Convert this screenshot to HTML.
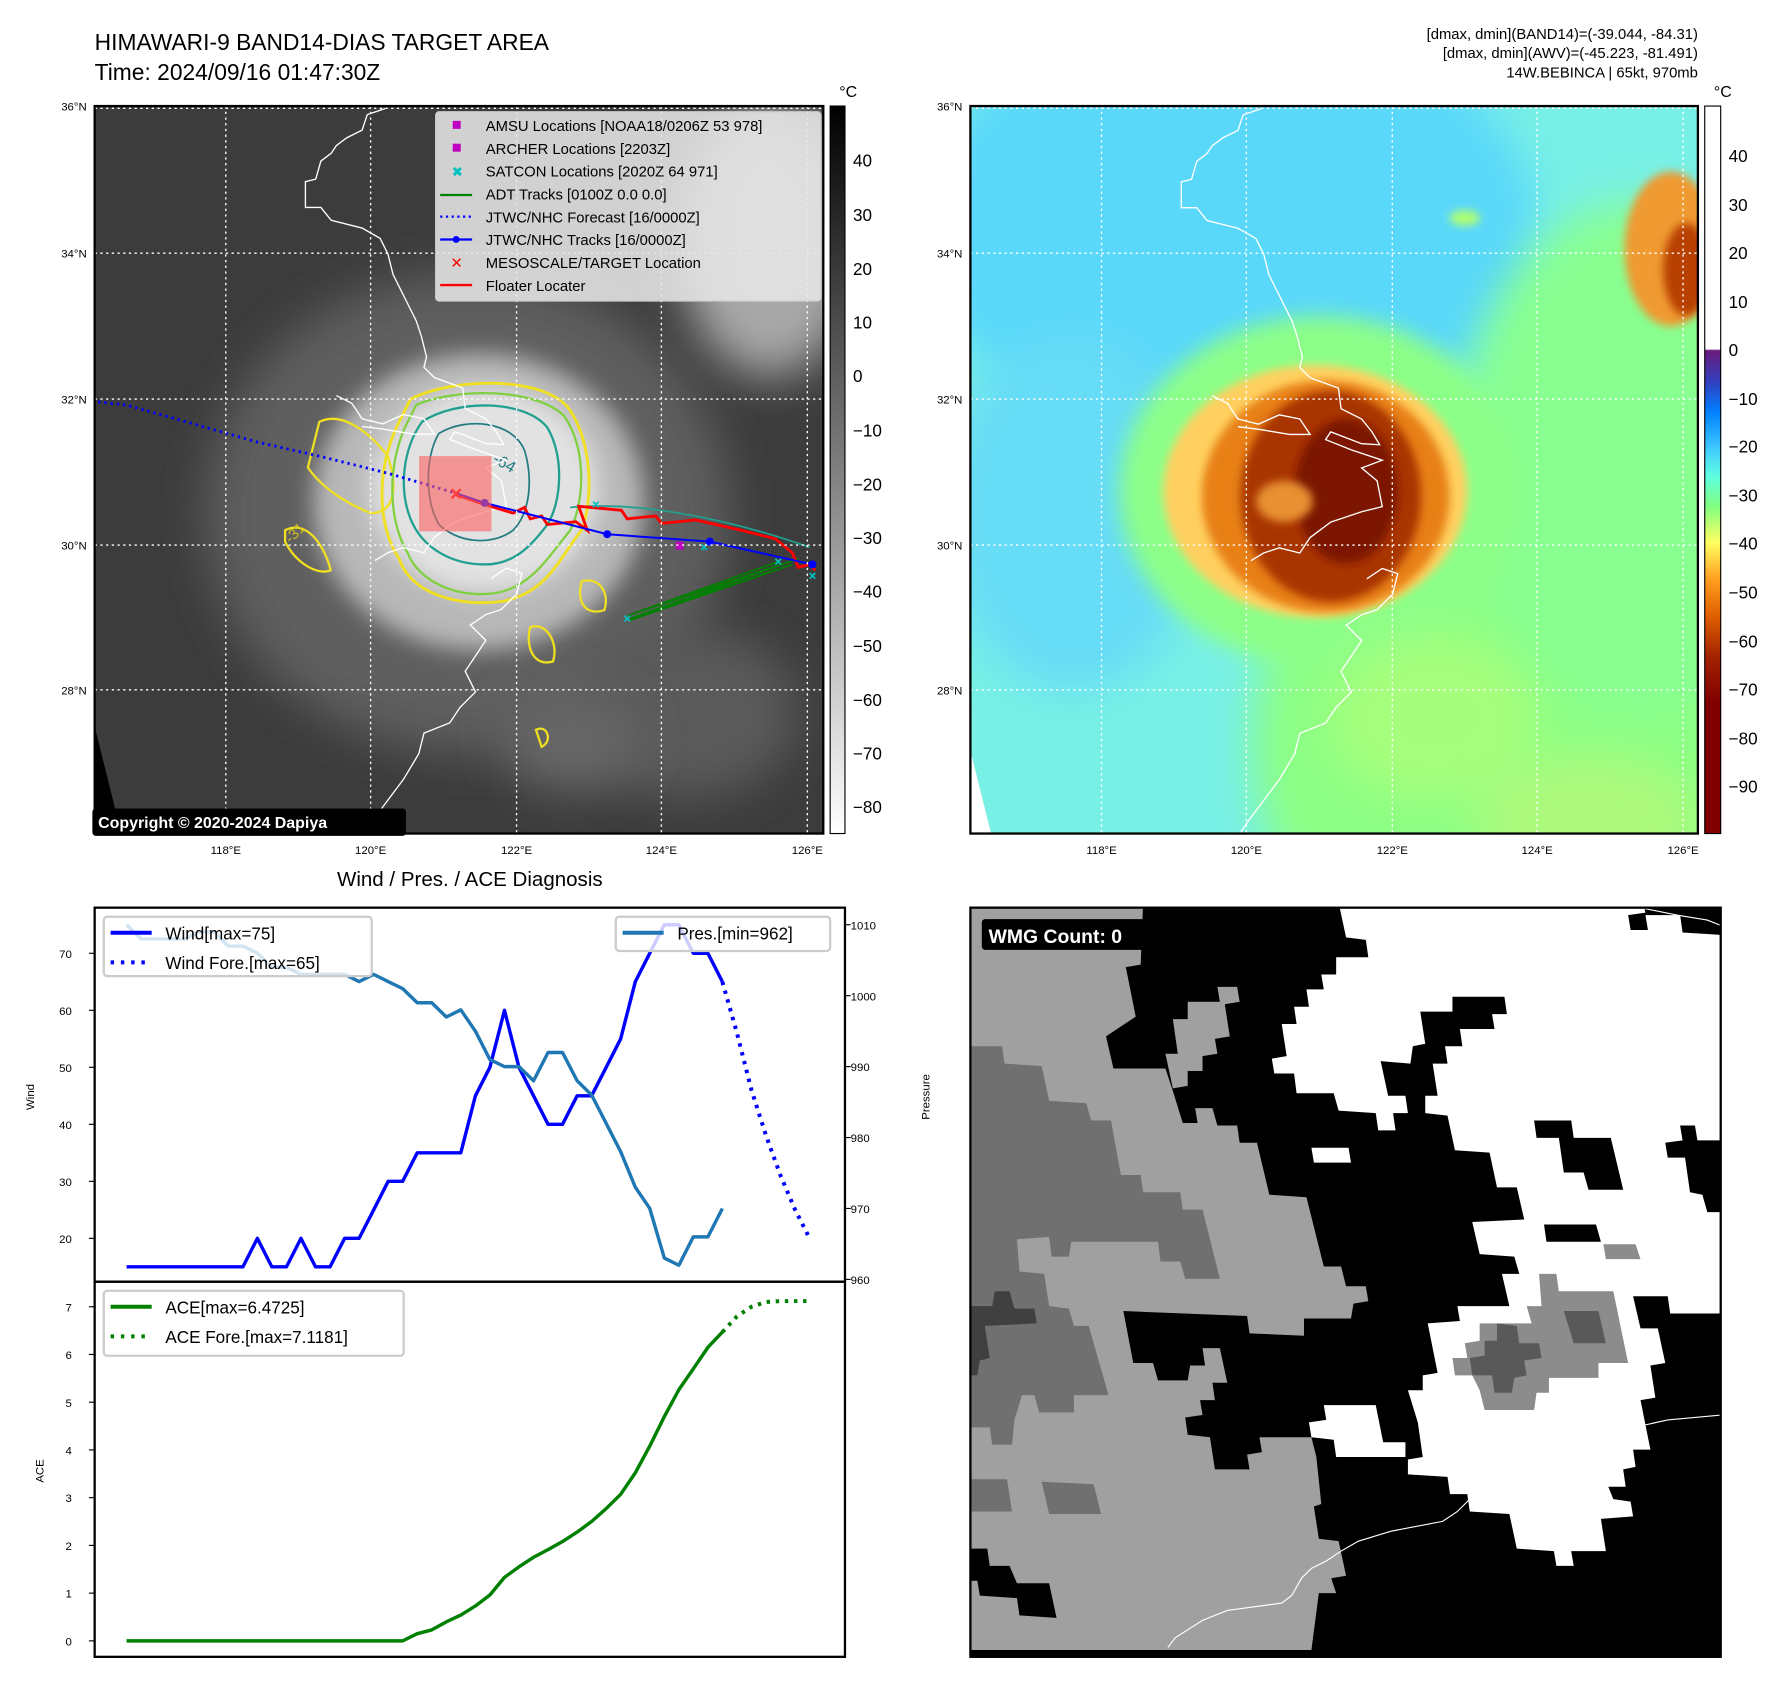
<!DOCTYPE html>
<html><head><meta charset="utf-8"><style>
html,body{margin:0;padding:0;background:#fff}
svg{display:block;font-family:"Liberation Sans","DejaVu Sans",sans-serif}
</style></head><body>
<svg id="root" width="1788" height="1694" viewBox="0 0 1568 1485.6" xmlns="http://www.w3.org/2000/svg">
<defs>
<filter id="b8" x="-50%" y="-50%" width="200%" height="200%"><feGaussianBlur stdDeviation="8"/></filter>
<filter id="b20" x="-50%" y="-50%" width="200%" height="200%"><feGaussianBlur stdDeviation="20"/></filter>
<filter id="b40" x="-50%" y="-50%" width="200%" height="200%"><feGaussianBlur stdDeviation="40"/></filter>
<clipPath id="clipL"><rect x="83" y="93" width="639" height="638"/></clipPath>
<clipPath id="clipR"><rect x="851" y="93" width="638" height="638"/></clipPath>
<clipPath id="clipB"><rect x="851" y="796" width="658" height="657"/></clipPath>
<linearGradient id="cbL" x1="0" y1="0" x2="0" y2="1"><stop offset="0" stop-color="#000"/><stop offset="1" stop-color="#fff"/></linearGradient>
<linearGradient id="cbR" x1="0" y1="0" x2="0" y2="1">
<stop offset="0" stop-color="#fff"/><stop offset="0.334" stop-color="#fff"/><stop offset="0.336" stop-color="#6a1b7a"/>
<stop offset="0.38" stop-color="#3040c0"/><stop offset="0.42" stop-color="#0080ff"/><stop offset="0.47" stop-color="#40c8ff"/>
<stop offset="0.51" stop-color="#60ffe0"/><stop offset="0.55" stop-color="#80ff80"/><stop offset="0.60" stop-color="#ffff60"/>
<stop offset="0.65" stop-color="#ffa020"/><stop offset="0.70" stop-color="#e06000"/><stop offset="0.76" stop-color="#a02000"/>
<stop offset="0.82" stop-color="#800000"/><stop offset="1" stop-color="#800000"/></linearGradient>
</defs>

<text x="83" y="44" font-size="20">HIMAWARI-9 BAND14-DIAS TARGET AREA</text>
<text x="83" y="70" font-size="20">Time: 2024/09/16 01:47:30Z</text>
<g font-size="13" text-anchor="end">
<text x="1489" y="34">[dmax, dmin](BAND14)=(-39.044, -84.31)</text>
<text x="1489" y="51">[dmax, dmin](AWV)=(-45.223, -81.491)</text>
<text x="1489" y="68">14W.BEBINCA | 65kt, 970mb</text>
</g>

<!-- LEFT MAP -->
<g clip-path="url(#clipL)">
<rect x="83" y="93" width="639" height="638" fill="#3c3c3c"/>
<g transform="scale(0.5)">
<ellipse cx="820" cy="900" rx="460" ry="420" fill="#5e5e5e" filter="url(#b40)"/>
<ellipse cx="1350" cy="420" rx="160" ry="240" fill="#a8a8a8" filter="url(#b40)"/>
<ellipse cx="1200" cy="1250" rx="200" ry="150" fill="#5a5a5a" filter="url(#b40)"/>
<ellipse cx="1000" cy="1300" rx="120" ry="90" fill="#666" filter="url(#b40)"/>
<ellipse cx="840" cy="880" rx="290" ry="260" fill="#b8b8b8" filter="url(#b20)"/>
<ellipse cx="850" cy="860" rx="200" ry="180" fill="#e2e2e2" filter="url(#b20)"/>
<polygon points="165,1270 165,1540 232,1540" fill="#000"/>
<path d="M720,700 C800,660 960,660 1000,720 C1040,780 1040,880 1020,930 C980,980 960,1040 880,1055 C800,1065 720,1040 700,980 C660,920 660,820 700,740 Z" fill="none" stroke="#f0e020" stroke-width="5"/>
<path d="M560,740 C600,720 650,760 680,800 C700,860 690,900 650,900 C600,880 560,850 540,820 Z M500,930 C540,910 570,960 580,1000 C560,1010 520,990 500,950 Z M1020,1020 C1050,1010 1070,1040 1060,1070 C1030,1080 1010,1060 1020,1020 Z M930,1100 C960,1090 980,1130 970,1160 C940,1170 920,1140 930,1100 Z M940,1280 C960,1270 970,1300 950,1310 Z" fill="none" stroke="#f0e020" stroke-width="4"/>
<path d="M730,710 C800,680 940,680 990,730 C1030,790 1025,880 1000,930 C960,980 930,1030 870,1040 C800,1050 735,1020 715,970 C680,910 680,820 710,750 Z" fill="none" stroke="#80d040" stroke-width="4"/>
<path d="M740,740 C800,700 920,700 960,750 C990,800 985,880 960,920 C930,960 900,990 850,990 C790,990 740,960 720,910 C700,860 705,790 740,740 Z" fill="none" stroke="#20a090" stroke-width="4"/>
<path d="M770,760 C820,730 900,740 920,790 C935,840 930,900 900,930 C860,960 800,950 770,920 C745,880 745,800 770,760 Z" fill="none" stroke="#207a80" stroke-width="3"/>
<path d="M1000,890 C1100,880 1250,900 1420,960" fill="none" stroke="#20a090" stroke-width="3"/>
<text x="860" y="820" font-size="28" fill="#207a80" transform="rotate(30 880 820)">-64</text>
<text x="500" y="950" font-size="26" fill="#d0c020" transform="rotate(-45 510 940)">-31</text>
<g transform="translate(165,174) scale(0.904)">
<polyline fill="none" stroke="#fff" stroke-width="2.6" points="565,18 530,30 520,60 490,75 470,90 460,105 440,120 430,155 410,160 410,210 440,210 460,235 520,250 555,270 570,300 580,340 595,370 610,400 625,430 635,460 645,500 640,520 660,540 715,560 720,600 760,620 780,645 795,670 760,668 700,645 690,660 740,680 800,700 760,715 790,740 800,790 760,800 700,820 660,850 640,880 600,870 570,880 545,895"/>
<polyline fill="none" stroke="#fff" stroke-width="2.6" points="470,575 500,590 520,620 560,630 600,612 640,620 660,650 620,650 560,640 520,635"/>
<polyline fill="none" stroke="#fff" stroke-width="2.6" points="770,930 800,910 830,920 820,960 790,990 760,1000 730,1020 760,1050 740,1080 720,1110 740,1150 710,1180 690,1210 640,1230 630,1270 600,1320 570,1360 540,1400 520,1430 480,1440 470,1500 450,1530"/>
</g>
<polyline fill="none" stroke="#0000ff" stroke-width="5" stroke-dasharray="4,7" points="172,705 220,710 320,738 450,775 560,800 680,830 800,865"/>
<polyline fill="none" stroke="#008000" stroke-width="3" points="1105,1088 1390,990 1105,1085 1400,980 1100,1080 1365,985"/>
<polyline fill="none" stroke="#ff0000" stroke-width="5" points="800,868 850,885 900,900 920,890 930,910 950,905 960,920 1010,915 1030,930 1015,888 1090,895 1100,910 1150,905 1160,918 1220,912 1300,930 1360,945 1390,970 1400,995 1420,990 1430,1000"/>
<polyline fill="none" stroke="#0000ff" stroke-width="3.5" points="800,865 850,882 1065,937 1245,950 1425,990"/>
<g fill="#0000ff"><circle cx="850" cy="882" r="7"/><circle cx="1065" cy="937" r="7"/><circle cx="1245" cy="950" r="7"/><circle cx="1425" cy="990" r="7"/></g>
<g stroke="#00c0c0" stroke-width="3"><path d="M1095,1080 l10,10 m0,-10 l-10,10 M1230,955 l10,10 m0,-10 l-10,10 M1360,980 l10,10 m0,-10 l-10,10 M1420,1005 l10,10 m0,-10 l-10,10 M1040,880 l10,10 m0,-10 l-10,10"/></g>
<rect x="1185" y="950" width="14" height="14" fill="#c000c0"/>
<path d="M792,858 l16,16 m0,-16 l-16,16" stroke="#ff0000" stroke-width="4"/>
<rect x="735" y="800" width="127" height="132" fill="#ff6060" fill-opacity="0.6"/>
</g>
<g stroke="#fff" stroke-width="1.2" stroke-dasharray="2,3">
<line x1="198" y1="93" x2="198" y2="731"/><line x1="325" y1="93" x2="325" y2="731"/><line x1="453" y1="93" x2="453" y2="731"/><line x1="580" y1="93" x2="580" y2="731"/><line x1="708" y1="93" x2="708" y2="731"/>
<line x1="83" y1="95" x2="722" y2="95"/><line x1="83" y1="222" x2="722" y2="222"/><line x1="83" y1="350" x2="722" y2="350"/><line x1="83" y1="478" x2="722" y2="478"/><line x1="83" y1="605" x2="722" y2="605"/>
</g>
</g>
<rect x="83" y="93" width="639" height="638" fill="none" stroke="#000" stroke-width="2"/>
<g font-size="13">
<rect x="382" y="98" width="338" height="166" rx="3" fill="#e6e6e6" fill-opacity="0.88" stroke="#ccc"/>
<rect x="397" y="106" width="7" height="7" fill="#c000c0"/><text x="426" y="115">AMSU Locations [NOAA18/0206Z 53 978]</text>
<rect x="397" y="126" width="7" height="7" fill="#c000c0"/><text x="426" y="135">ARCHER Locations [2203Z]</text>
<text x="396" y="155" fill="#00c0c0" font-size="12">✖</text><text x="426" y="155">SATCON Locations [2020Z 64 971]</text>
<line x1="386" y1="171" x2="414" y2="171" stroke="#008000" stroke-width="2"/><text x="426" y="175">ADT Tracks [0100Z 0.0 0.0]</text>
<line x1="386" y1="190" x2="414" y2="190" stroke="#0000ff" stroke-width="2" stroke-dasharray="2,3"/><text x="426" y="195">JTWC/NHC Forecast [16/0000Z]</text>
<line x1="386" y1="210" x2="414" y2="210" stroke="#0000ff" stroke-width="2"/><circle cx="400" cy="210" r="3" fill="#0000ff"/><text x="426" y="215">JTWC/NHC Tracks [16/0000Z]</text>
<text x="395" y="235" fill="#ff0000" font-size="13" font-weight="bold">✕</text><text x="426" y="235">MESOSCALE/TARGET Location</text>
<line x1="386" y1="250" x2="414" y2="250" stroke="#ff0000" stroke-width="2"/><text x="426" y="255">Floater Locater</text>
</g>
<g><rect x="81" y="709" width="275" height="24" rx="3" fill="#000"/><text x="86" y="726" fill="#fff" font-size="14" font-weight="bold">Copyright © 2020-2024 Dapiya</text></g>
<g font-size="10">
<g text-anchor="end"><text x="76" y="97">36°N</text><text x="76" y="226">34°N</text><text x="76" y="354">32°N</text><text x="76" y="482">30°N</text><text x="76" y="609">28°N</text></g>
<g text-anchor="middle"><text x="198" y="749">118°E</text><text x="325" y="749">120°E</text><text x="453" y="749">122°E</text><text x="580" y="749">124°E</text><text x="708" y="749">126°E</text></g>
<g text-anchor="end"><text x="844" y="97">36°N</text><text x="844" y="226">34°N</text><text x="844" y="354">32°N</text><text x="844" y="482">30°N</text><text x="844" y="609">28°N</text></g>
<g text-anchor="middle"><text x="966" y="749">118°E</text><text x="1093" y="749">120°E</text><text x="1221" y="749">122°E</text><text x="1348" y="749">124°E</text><text x="1476" y="749">126°E</text></g>
</g>
<g>
<rect x="728" y="93" width="13" height="638" fill="url(#cbL)" stroke="#000" stroke-width="1"/>
<text x="736" y="85" font-size="14">°C</text>
<g font-size="15"><text x="748" y="146">40</text><text x="748" y="194">30</text><text x="748" y="241">20</text><text x="748" y="288">10</text><text x="748" y="335">0</text><text x="748" y="383">−10</text><text x="748" y="430">−20</text><text x="748" y="477">−30</text><text x="748" y="524">−40</text><text x="748" y="572">−50</text><text x="748" y="619">−60</text><text x="748" y="666">−70</text><text x="748" y="713">−80</text></g>
</g>

<!-- RIGHT MAP -->
<g clip-path="url(#clipR)">
<rect x="851" y="93" width="638" height="638" fill="#78f0e6"/>
<g transform="translate(850.6,87.2) scale(0.452)">
<ellipse cx="500" cy="250" rx="600" ry="420" fill="#5ad8fa" filter="url(#b40)"/>
<ellipse cx="1250" cy="1250" rx="700" ry="600" fill="#8cff84" filter="url(#b40)"/>
<ellipse cx="1300" cy="700" rx="350" ry="500" fill="#88ff90" filter="url(#b40)"/>
<ellipse cx="200" cy="800" rx="250" ry="350" fill="#66dcf6" filter="url(#b40)"/>
<ellipse cx="680" cy="760" rx="390" ry="340" fill="#8cff88" filter="url(#b20)"/>
<ellipse cx="900" cy="1200" rx="200" ry="160" fill="#d8ff70" opacity="0.35" filter="url(#b40)"/>
<ellipse cx="1200" cy="1400" rx="220" ry="130" fill="#e8f070" opacity="0.35" filter="url(#b40)"/>
<ellipse cx="670" cy="760" rx="295" ry="245" fill="#ffd060" filter="url(#b8)"/>
<ellipse cx="690" cy="770" rx="240" ry="225" fill="#e88018" filter="url(#b8)"/>
<ellipse cx="700" cy="770" rx="175" ry="205" fill="#a83400" filter="url(#b8)"/>
<ellipse cx="730" cy="760" rx="100" ry="140" fill="#7c1200" filter="url(#b8)"/>
<ellipse cx="610" cy="780" rx="55" ry="40" fill="#e89030" filter="url(#b8)"/>
<ellipse cx="1360" cy="290" rx="90" ry="150" fill="#f09a30" filter="url(#b8)"/>
<ellipse cx="1390" cy="330" rx="45" ry="90" fill="#b84000" filter="url(#b8)"/>
<ellipse cx="960" cy="230" rx="30" ry="15" fill="#b0ff70" filter="url(#b8)"/>
<polygon points="0,1260 0,1540 70,1540" fill="#fff"/>
<polyline fill="none" stroke="#fff" stroke-width="2.6" points="565,18 530,30 520,60 490,75 470,90 460,105 440,120 430,155 410,160 410,210 440,210 460,235 520,250 555,270 570,300 580,340 595,370 610,400 625,430 635,460 645,500 640,520 660,540 715,560 720,600 760,620 780,645 795,670 760,668 700,645 690,660 740,680 800,700 760,715 790,740 800,790 760,800 700,820 660,850 640,880 600,870 570,880 545,895"/>
<polyline fill="none" stroke="#fff" stroke-width="2.6" points="470,575 500,590 520,620 560,630 600,612 640,620 660,650 620,650 560,640 520,635"/>
<polyline fill="none" stroke="#fff" stroke-width="2.6" points="770,930 800,910 830,920 820,960 790,990 760,1000 730,1020 760,1050 740,1080 720,1110 740,1150 710,1180 690,1210 640,1230 630,1270 600,1320 570,1360 540,1400 520,1430 480,1440 470,1500 450,1530"/>
</g>
<g stroke="#fff" stroke-width="1.2" stroke-dasharray="2,3">
<line x1="966" y1="93" x2="966" y2="731"/><line x1="1093" y1="93" x2="1093" y2="731"/><line x1="1221" y1="93" x2="1221" y2="731"/><line x1="1348" y1="93" x2="1348" y2="731"/><line x1="1476" y1="93" x2="1476" y2="731"/>
<line x1="851" y1="95" x2="1489" y2="95"/><line x1="851" y1="222" x2="1489" y2="222"/><line x1="851" y1="350" x2="1489" y2="350"/><line x1="851" y1="478" x2="1489" y2="478"/><line x1="851" y1="605" x2="1489" y2="605"/>
</g>
</g>
<rect x="851" y="93" width="638" height="638" fill="none" stroke="#000" stroke-width="2"/>
<g>
<rect x="1495" y="93" width="14" height="638" fill="url(#cbR)" stroke="#000" stroke-width="1"/>
<text x="1503" y="85" font-size="14">°C</text>
<g font-size="15"><text x="1516" y="142">40</text><text x="1516" y="185">30</text><text x="1516" y="227">20</text><text x="1516" y="270">10</text><text x="1516" y="312">0</text><text x="1516" y="355">−10</text><text x="1516" y="397">−20</text><text x="1516" y="440">−30</text><text x="1516" y="482">−40</text><text x="1516" y="525">−50</text><text x="1516" y="568">−60</text><text x="1516" y="610">−70</text><text x="1516" y="653">−80</text><text x="1516" y="695">−90</text></g>
</g>

<!-- BOTTOM RIGHT WMG -->
<g clip-path="url(#clipB)">
<rect x="851" y="796" width="658" height="657" fill="#000"/>
<g transform="translate(850.6,785.2) scale(0.434)">
<polygon fill="#a0a0a0" points="0,15 350,15 345,140 315,145 335,245 275,285 290,350 395,350 410,395 430,460 460,460 455,430 490,430 500,465 540,465 545,500 580,500 605,605 680,610 715,750 750,750 760,790 800,790 805,820 775,825 770,855 675,855 675,890 565,885 560,850 310,840 330,945 370,945 380,980 440,980 445,950 475,950 470,915 505,915 520,985 490,985 495,1020 465,1020 470,1050 435,1055 440,1090 485,1095 495,1160 565,1160 560,1130 590,1125 585,1095 690,1095 700,1135 710,1230 695,1235 705,1300 745,1305 760,1375 730,1380 740,1410 705,1410 690,1525 0,1525"/>
<polygon fill="#a0a0a0" points="410,250 440,250 440,215 505,215 500,185 540,185 545,215 515,220 525,285 495,290 500,320 470,325 470,355 440,355 440,385 410,390 395,320 420,320"/>
<polygon fill="#000" points="0,1320 35,1320 40,1355 80,1355 95,1390 160,1390 175,1460 100,1455 95,1420 20,1415 15,1385 0,1385"/>
<polygon fill="#707070" points="0,305 65,305 70,340 145,345 160,415 235,420 245,455 285,455 305,565 345,565 350,600 425,600 430,635 470,635 505,775 435,775 425,740 385,740 380,700 205,700 200,730 165,730 160,690 95,695 100,760 150,765 160,830 200,835 210,870 240,870 280,1010 210,1010 210,1045 140,1045 130,1010 105,1010 90,1060 85,1110 45,1110 40,1075 0,1075"/>
<polygon fill="#404040" points="0,830 45,830 50,800 80,800 90,835 130,835 135,865 30,870 40,935 20,940 15,970 0,970"/>
<polygon fill="#707070" points="0,1180 75,1180 85,1245 0,1245"/>
<polygon fill="#707070" points="145,1185 250,1190 265,1250 160,1250"/>
<polygon fill="#fff" points="745,15 1360,15 1365,35 1330,40 1335,70 1370,70 1365,40 1435,40 1440,75 1520,80 1520,495 1470,495 1465,465 1435,465 1440,495 1405,500 1410,530 1445,530 1455,600 1480,605 1490,640 1520,640 1520,845 1415,845 1410,810 1340,810 1355,875 1390,875 1405,945 1375,950 1385,1015 1355,1020 1375,1120 1340,1120 1345,1155 1320,1160 1325,1195 1290,1195 1300,1220 1335,1225 1340,1255 1275,1260 1285,1325 1215,1325 1220,1355 1185,1355 1180,1325 1105,1320 1090,1250 1010,1245 1005,1210 970,1210 965,1175 885,1170 885,1140 915,1135 905,1065 885,1000 915,1000 915,970 945,965 925,865 990,860 985,830 1090,830 1075,765 1110,765 1100,730 1030,725 1015,660 1120,655 1105,590 1065,590 1050,520 980,515 965,445 920,440 920,405 945,405 935,340 965,340 960,305 995,305 990,270 1060,270 1055,240 1085,240 1080,205 975,205 975,235 910,235 920,300 895,305 890,340 830,335 845,405 880,405 885,440 855,440 860,475 825,475 820,440 745,435 735,400 660,400 655,360 615,360 610,330 640,325 630,260 660,260 655,225 685,225 680,190 715,190 710,160 740,160 740,125 805,125 800,90 760,85"/>
<polygon fill="#000" points="1140,455 1215,455 1220,490 1295,490 1320,595 1250,595 1240,560 1200,560 1190,490 1145,490"/>
<polygon fill="#000" points="1160,665 1265,665 1275,700 1165,700"/>
<polygon fill="#8c8c8c" points="1280,705 1345,705 1355,735 1285,735"/>
<polygon fill="#fff" points="690,510 765,510 770,540 695,540"/>
<polygon fill="#fff" points="715,1030 820,1030 835,1105 880,1105 880,1135 740,1135 735,1100 690,1095 685,1065 720,1060"/>
<polygon fill="#8c8c8c" points="1150,765 1185,765 1190,800 1300,800 1330,945 1270,945 1270,975 1170,975 1170,1005 1145,1005 1140,1040 1040,1040 1030,1000 1015,970 980,970 975,935 1005,935 1000,905 1030,900 1030,865 1135,865 1125,830 1155,830"/>
<polygon fill="#595959" points="1200,840 1270,840 1285,905 1220,905"/>
<polygon fill="#595959" points="1065,865 1105,870 1110,905 1150,905 1155,935 1120,940 1125,970 1100,975 1095,1005 1060,1005 1055,970 1015,970 1010,935 1040,930 1040,900 1065,900"/>
<polyline fill="none" stroke="#fff" stroke-width="2.3" points="400,1520 415,1500 470,1465 520,1445 630,1430 650,1415 670,1380 690,1360 720,1345 750,1325 785,1305 850,1285 955,1265 985,1245 1010,1220"/>
<polyline fill="none" stroke="#fff" stroke-width="2.3" points="1365,1070 1410,1060 1520,1050"/>
<polyline fill="none" stroke="#fff" stroke-width="2.3" points="1355,25 1430,40 1490,50 1520,62"/>
</g>
</g>
<rect x="851" y="796" width="658" height="657" fill="none" stroke="#000" stroke-width="2"/>
<g><rect x="861" y="806" width="155" height="27" rx="3" fill="#000"/><text x="867" y="827" fill="#fff" font-size="17" font-weight="bold">WMG Count: 0</text></g>

<text x="412" y="777" font-size="18" text-anchor="middle">Wind / Pres. / ACE Diagnosis</text>
<g id="chart"></g>
</svg>
<script>
const obsIndex = [0,1,2,3,4,5,6,7,8,9,10,11,12,13,14,15,16,17,18,19,20,21,22,23,24,25,26,27,28,29,30,31,32,33,34,35,36,37,38,39,40,41];
const windObs = [15,15,15,15,15,15,15,15,15,20,15,15,20,15,15,20,20,25,30,30,35,35,35,35,45,50,60,50,45,40,40,45,45,50,55,65,70,75,75,70,70,65];
const presObs = [1010,1008,1008,1008,1008,1009,1009,1007,1007,1006,1004,1004,1003,1003,1003,1003,1002,1003,1002,1001,999,999,997,998,995,991,990,990,988,992,992,988,986,982,978,973,970,963,962,966,966,970];
const aceObs = [0,0,0,0,0,0,0,0,0,0,0,0,0,0,0,0,0,0,0,0,0.15,0.23,0.4,0.54,0.73,0.96,1.33,1.55,1.75,1.91,2.08,2.28,2.5,2.77,3.07,3.52,4.08,4.7,5.26,5.7,6.15,6.47];
const foreIndex = [41,42,43,44,45,46,47];
const windFore = [65,56,46,38,31,25,20];
const aceFore = [6.47,6.8,7.0,7.1,7.12,7.12,7.12];
const windTicks = [20,30,40,50,60,70];
const presTicks = [960,970,980,990,1000,1010];
const aceTicks = [0,1,2,3,4,5,6,7];

const NS='http://www.w3.org/2000/svg';
const g=document.getElementById('chart');
const L=83,R=741,T1=796,M=1124,B=1453;
function xS(i){return 111+i*(710-111)/47;}
function yW(v){return 836+(70-v)*5;}
function yP(p){return 811+(1010-p)*6.22;}
function yA(a){return 1439-a*41.86;}
function mk(tag,attrs){const e=document.createElementNS(NS,tag);for(const k in attrs)e.setAttribute(k,attrs[k]);g.appendChild(e);return e;}
function line(xs,ys,color,dash,name){
  const pts=xs.map((x,i)=>xS(x).toFixed(1)+','+ys[i].toFixed(1)).join(' ');
  const e=mk('polyline',{points:pts,fill:'none',stroke:color,'stroke-width':dash?3.5:3,'stroke-dasharray':dash?'3,5':'none','stroke-linejoin':'round'});
  
  
}
function txt(x,y,s,size,anchor,extra){const e=mk('text',Object.assign({x:x,y:y,'font-size':size,'text-anchor':anchor||'start'},extra||{}));e.textContent=s;return e;}
const f1=mk('rect',{x:L,y:T1,width:R-L,height:M-T1,fill:'none',stroke:'#000','stroke-width':2});


const f2=mk('rect',{x:L,y:M,width:R-L,height:B-M,fill:'none',stroke:'#000','stroke-width':2});


windTicks.forEach(v=>{mk('line',{x1:L-5,x2:L,y1:yW(v),y2:yW(v),stroke:'#000'});const t=txt(L-20,yW(v)+4,String(v),10,'end');});
presTicks.forEach(v=>{mk('line',{x1:R,x2:R+5,y1:yP(v),y2:yP(v),stroke:'#000'});const t=txt(R+5,yP(v)+4,String(v),10,'start');});
aceTicks.forEach(v=>{mk('line',{x1:L-5,x2:L,y1:yA(v),y2:yA(v),stroke:'#000'});const t=txt(L-20,yA(v)+4,String(v),10,'end');});
const yl1=txt(30,962,'Wind',10,'middle',{transform:'rotate(-90 30 962)'});


const yl2=txt(815,962,'Pressure',10,'middle',{transform:'rotate(-90 815 962)'});


const yl3=txt(38,1290,'ACE',10,'middle',{transform:'rotate(-90 38 1290)'});


line(obsIndex,windObs.map(yW),'#0000ff',false,'wind-line');
line(foreIndex,windFore.map(yW),'#0000ff',true,'wind-forecast-line');
line(obsIndex,presObs.map(yP),'#1f77b4',false,'pressure-line');
line(obsIndex,aceObs.map(yA),'#008000',false,'ace-line');
line(foreIndex,aceFore.map(yA),'#008000',true,'ace-forecast-line');
function legend(x,y,w,h,items,name){
  const r=mk('rect',{x:x,y:y,width:w,height:h,rx:3,fill:'#fff','fill-opacity':0.8,stroke:'#ccc','stroke-width':2});
  
  
  items.forEach((it,i)=>{const yy=y+14+i*26;
    mk('line',{x1:x+6,x2:x+42,y1:yy,y2:yy,stroke:it[1],'stroke-width':3.5,'stroke-dasharray':it[2]?'3,6':'none'});
    const t=txt(x+54,yy+6,it[0],15,'start');
    
    
  });
}
legend(91,804,235,52,[['Wind[max=75]','#0000ff',false],['Wind Fore.[max=65]','#0000ff',true]],'wind-legend');
legend(540,804,188,30,[['Pres.[min=962]','#1f77b4',false]],'pressure-legend');
legend(91,1132,263,57,[['ACE[max=6.4725]','#008000',false],['ACE Fore.[max=7.1181]','#008000',true]],'ace-legend');
</script>
</body></html>
